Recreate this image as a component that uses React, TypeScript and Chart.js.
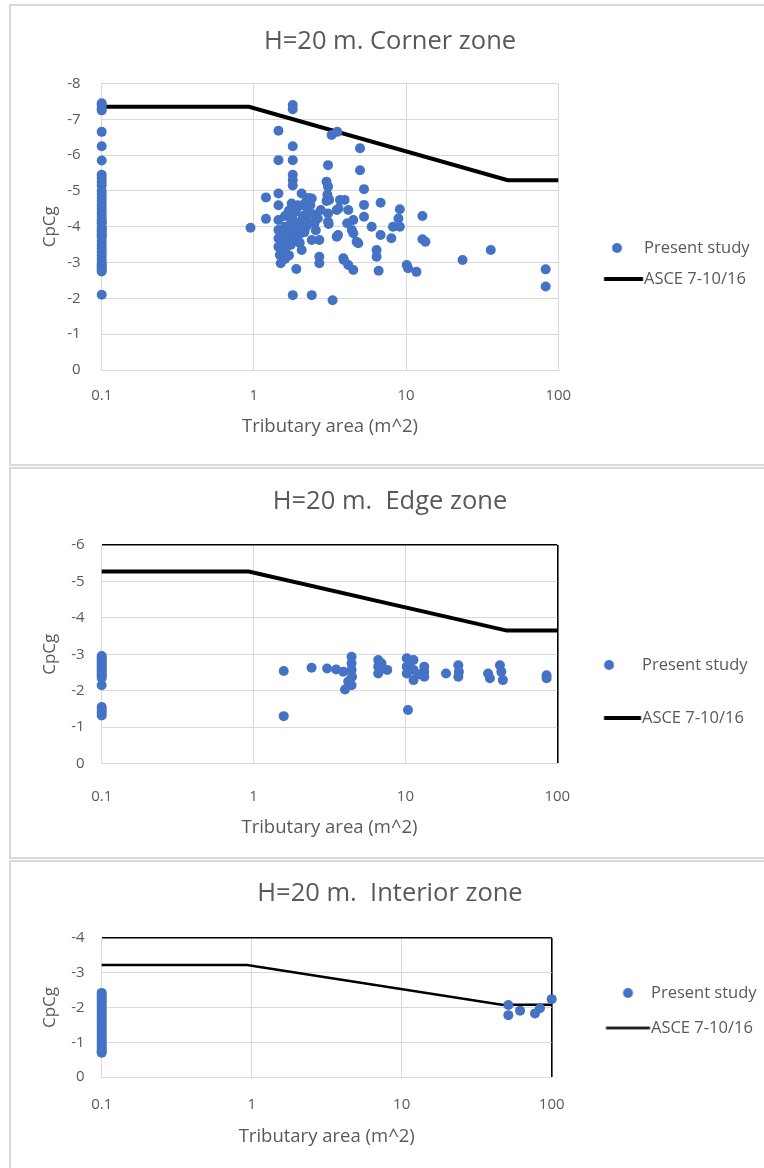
import React, { useEffect, useRef } from 'react';
import { Chart, registerables } from 'chart.js';

Chart.register(...registerables);

// ---------- data ----------
const AREA_TICKS = [0.1, 1, 10, 100];
const AREA_TICK_LABELS = ['0.1', '1', '10', '100'];
const SMALLEST_AREA = 0.1;

// ASCE 7-10/16 design curve (tributary area m^2 -> CpCg)
const ASCE_AREA = [0.1, 0.93, 46.5, 100];
const CORNER_ASCE = [-7.35, -7.35, -5.3, -5.3];
const EDGE_ASCE = [-5.27, -5.27, -3.65, -3.65];
const INTERIOR_ASCE = [-3.22, -3.22, -2.08, -2.08];

// Present study - corner zone
const CORNER_AT_SMALLEST = [
  -7.45, -7.4, -7.3, -7.25, -6.65, -6.25, -5.85, -5.45, -5.35, -5.25, -5.15, -5.0, -4.9, -4.8,
  -4.7, -4.6, -4.5, -4.4, -4.3, -4.2, -4.15, -4.1, -4.0, -3.95, -3.9, -3.85, -3.8, -3.75, -3.7,
  -3.6, -3.5, -3.4, -3.3, -3.2, -3.1, -3.0, -2.95, -2.9, -2.85, -2.8, -2.75, -2.1,
];
const CORNER_AREA = [
  0.95, 1.2, 1.2, 1.45, 1.45, 1.45, 1.45, 1.45, 1.45, 1.45, 1.45, 1.48, 1.5, 1.8, 1.8, 1.8, 1.8,
  1.8, 1.8, 1.8, 1.77, 1.77, 1.8, 1.9, 1.91, 1.91, 2.06, 2.06, 2.06, 2.2, 2.35, 2.4, 2.4, 2.4,
  2.69, 2.69, 2.69, 2.75, 2.63, 3.0, 3.07, 3.04, 3.12, 3.0, 3.07, 3.07, 3.07, 3.1, 3.24, 3.53,
  3.29, 3.5, 3.5, 3.6, 3.68, 3.94, 3.87, 4.17, 4.17, 4.4, 4.5, 4.5, 4.73, 4.98, 4.98, 5.29, 5.29,
  5.29, 5.94, 6.8, 6.8, 6.4, 6.4, 6.6, 8.0, 8.2, 8.9, 9.1, 9.1, 10.1, 10.3, 11.7, 12.8, 12.8,
  13.4, 23.5, 36, 82.6, 82.6, 1.55, 1.6, 1.65, 1.7, 1.75, 1.85, 1.9, 1.95, 2.0, 2.05, 2.1, 2.15,
  2.2, 2.25, 2.3, 1.6, 1.55, 1.65, 1.7, 1.75, 1.6, 1.6, 1.7, 1.8, 1.85, 1.95, 2.1, 2.3, 2.2, 2.45,
  2.5, 2.55, 2.0, 1.75, 4.1, 3.57, 4.85, 4.5, 3.9,
];
const CORNER_CPCG = [
  -3.97, -4.82, -4.22, -6.68, -5.86, -4.93, -4.6, -4.19, -3.91, -3.67, -3.44, -3.21, -2.98, -7.4,
  -7.28, -6.25, -5.86, -5.45, -5.3, -5.15, -4.65, -3.82, -2.09, -2.82, -4.51, -3.68, -4.93, -3.96,
  -3.35, -4.28, -4.61, -4.79, -3.63, -2.09, -3.63, -3.16, -2.98, -4.47, -4.23, -5.26, -5.12, -4.89,
  -4.75, -4.72, -5.72, -4.37, -4.14, -4.08, -6.56, -6.65, -1.95, -4.47, -3.72, -4.51, -4.75, -4.75,
  -3.12, -4.47, -2.93, -3.91, -4.19, -2.79, -3.58, -6.19, -5.58, -5.05, -4.61, -4.28, -4.0, -4.67,
  -3.77, -3.35, -3.16, -2.77, -3.68, -4.0, -4.23, -4.49, -4.0, -2.93, -2.84, -2.74, -4.3, -3.65,
  -3.58, -3.07, -3.35, -2.81, -2.33, -3.3, -3.55, -3.75, -3.95, -4.1, -3.6, -3.9, -4.05, -3.8,
  -4.15, -4.3, -3.85, -4.0, -4.4, -4.1, -4.0, -3.85, -3.45, -3.2, -3.5, -3.1, -4.3, -4.45, -4.2,
  -4.4, -4.6, -4.6, -4.8, -4.7, -4.35, -4.1, -3.9, -3.55, -3.65, -4.1, -3.77, -3.54, -3.82, -3.07,
];

// Present study - edge zone
const EDGE_AT_SMALLEST = [
  -2.95, -2.9, -2.85, -2.8, -2.75, -2.7, -2.65, -2.6, -2.55, -2.5, -2.45, -2.4, -2.35, -2.15,
  -1.55, -1.48, -1.4, -1.32,
];
const EDGE_AREA = [
  1.58, 1.58, 2.41, 3.05, 3.5, 3.9, 4.42, 4.42, 4.42, 4.45, 4.2, 4.0, 4.42, 6.62, 6.62, 6.62, 7.14,
  7.59, 6.95, 10.2, 10.2, 10.2, 10.6, 11.3, 11.3, 11.3, 10.4, 12.3, 13.3, 13.3, 13.3, 18.5, 22.3,
  22.5, 22.3, 35, 36, 41.9, 42.8, 43.8, 85, 85,
];
const EDGE_CPCG = [
  -2.54, -1.3, -2.63, -2.61, -2.58, -2.52, -2.93, -2.75, -2.57, -2.38, -2.25, -2.03, -2.15, -2.84,
  -2.66, -2.47, -2.61, -2.57, -2.75, -2.89, -2.66, -2.47, -2.75, -2.84, -2.57, -2.29, -1.47, -2.45,
  -2.66, -2.52, -2.38, -2.47, -2.7, -2.52, -2.38, -2.47, -2.34, -2.7, -2.52, -2.29, -2.42, -2.34,
];

// Present study - interior zone
const INTERIOR_AT_SMALLEST = [
  -2.42, -2.36, -2.3, -2.24, -2.18, -2.1, -2.02, -1.95, -1.88, -1.8, -1.72, -1.65, -1.58, -1.5,
  -1.42, -1.35, -1.28, -1.2, -1.12, -1.05, -0.98, -0.92, -0.86, -0.8, -0.74, -0.7,
];
const INTERIOR_AREA = [51.4, 51.4, 61.5, 77.4, 83.5, 100];
const INTERIOR_CPCG = [-2.07, -1.78, -1.91, -1.83, -1.98, -2.24];

// ---------- styling / layout ----------
const FONT = "'Open Sans', 'Noto Sans', sans-serif";
const TEXT = '#595959';
const GRID = '#d9d9d9';
const BLUE = '#4472C4';
const TITLE_SIZE = 25.5;
const TICK_SIZE = 15;
const X_TITLE_SIZE = 18.5;
const Y_TITLE_SIZE = 17;
const LEGEND_SIZE = 16.5;
const CANVAS_LEFT = 10;
const CANVAS_W = 764;
const PLOT_LEFT = 101.7;
const Y_TITLE_X = 50.5;
const TITLE_X = 390;
const LEGEND_TEXTS = ['Present study', 'ASCE 7-10/16'];

type Geo = {
  top: number; height: number;
  plotTop: number; plotBottom: number; plotRight: number;
  titleY: number; xTickY: number; xTitleY: number; yTickGap: number;
  legendY: number; legendStep: number;
  keyStart: number; keyEnd: number; dotX: number; textX: number;
};

type ZoneProps = {
  title: string;
  yMin: number;
  smallest: number[];
  area: number[];
  cpcg: number[];
  asce: number[];
  lineWidth: number;
  blackFrame: boolean;
  geo: Geo;
};

function ZoneChart(props: ZoneProps) {
  const ref = useRef<HTMLCanvasElement | null>(null);
  const { geo: g } = props;

  useEffect(() => {
    if (!ref.current) return;
    const c = (y: number) => y - g.top;
    const xc = (x: number) => x - CANVAS_LEFT;

    // vertical layout
    const padTop = 8;
    const padBottom = padTop + g.height - 2 * c(g.legendY);
    const titleLH = TITLE_SIZE * 1.2;
    const tpt = c(g.titleY) - padTop - titleLH / 2;
    const tpb = c(g.plotTop) - padTop - tpt - titleLH;
    const xH = g.height - padBottom - c(g.plotBottom);
    const tickLH = TICK_SIZE * 1.2;
    const xTickPad = c(g.xTickY) - c(g.plotBottom) - tickLH / 2;
    const xLH = X_TITLE_SIZE * 1.2;
    const xTitlePad = g.height - padBottom - c(g.xTitleY) - xLH / 2;

    // legend geometry
    const lp = g.legendStep - LEGEND_SIZE;
    const x0 = g.plotRight + lp;
    const boxW = g.textX - LEGEND_SIZE / 2 - x0;
    const K = x0 + boxW / 2;
    const mctx = document.createElement('canvas').getContext('2d')!;
    mctx.font = `${LEGEND_SIZE}px ${FONT}`;
    const maxText = Math.max(...LEGEND_TEXTS.map((t) => mctx.measureText(t).width));
    const legendW = lp + boxW + LEGEND_SIZE / 2 + maxText + 10;

    // horizontal layout
    const padRight = CANVAS_W - xc(g.plotRight) - legendW;
    const padLeft = 2 * xc(TITLE_X) - xc(g.plotRight) - legendW;
    const yW = xc(PLOT_LEFT) - padLeft;
    const yLH = Y_TITLE_SIZE * 1.2;
    const yTitlePad = xc(Y_TITLE_X) - padLeft - yLH / 2;

    const lineImg = document.createElement('canvas');
    const lw = Math.ceil(2 * Math.max(Math.abs(K - g.keyStart), Math.abs(g.keyEnd - K))) + 2;
    const lh = Math.ceil(props.lineWidth) + 2;
    lineImg.width = lw;
    lineImg.height = lh;
    const lctx = lineImg.getContext('2d')!;
    const lLeft = K - lw / 2;
    lctx.fillStyle = '#000';
    lctx.fillRect(g.keyStart - lLeft, (lh - props.lineWidth) / 2, g.keyEnd - g.keyStart, props.lineWidth);

    const dotImg = document.createElement('canvas');
    const dw = Math.ceil(2 * (Math.abs(g.dotX - K) + 6));
    dotImg.width = dw;
    dotImg.height = 12;
    const dctx = dotImg.getContext('2d')!;
    dctx.fillStyle = BLUE;
    dctx.beginPath();
    dctx.arc(g.dotX - (K - dw / 2), 6, 5, 0, Math.PI * 2);
    dctx.fill();

    const points = [
      ...props.smallest.map((v) => ({ x: SMALLEST_AREA, y: v })),
      ...props.area.map((a, i) => ({ x: a, y: props.cpcg[i] })),
    ];
    const line = ASCE_AREA.map((a, i) => ({ x: a, y: props.asce[i] }));
    const isFrameX = (ctx: any) => props.blackFrame && ctx.tick && ctx.tick.value === 100;
    const isFrameY = (ctx: any) => props.blackFrame && ctx.tick && ctx.tick.value === props.yMin;

    const chart = new Chart(ref.current, {
      type: 'scatter',
      data: {
        datasets: [
          {
            label: LEGEND_TEXTS[0],
            data: points,
            showLine: false,
            pointRadius: 5,
            pointHoverRadius: 5,
            pointBackgroundColor: BLUE,
            pointBorderColor: BLUE,
            pointBorderWidth: 0,
            clip: false,
            order: 1,
          } as any,
          {
            label: LEGEND_TEXTS[1],
            data: line,
            showLine: true,
            borderColor: '#000',
            backgroundColor: '#000',
            borderWidth: props.lineWidth,
            pointRadius: 0,
            pointHoverRadius: 0,
            fill: false,
            tension: 0,
            clip: false,
            order: 2,
          } as any,
        ],
      },
      options: {
        animation: false,
        responsive: false,
        maintainAspectRatio: false,
        events: [],
        layout: { padding: { top: padTop, bottom: padBottom, left: padLeft, right: padRight } },
        scales: {
          x: {
            type: 'logarithmic',
            min: 0.1,
            max: 100,
            afterBuildTicks: (s: any) => {
              s.ticks = AREA_TICKS.map((v) => ({ value: v }));
            },
            afterFit: (s: any) => {
              s.height = xH;
            },
            ticks: {
              autoSkip: false,
              maxRotation: 0,
              color: TEXT,
              font: { family: FONT, size: TICK_SIZE },
              padding: xTickPad,
              callback: (v: any) => {
                const i = AREA_TICKS.indexOf(Number(v));
                return i >= 0 ? AREA_TICK_LABELS[i] : '';
              },
            },
            grid: {
              drawTicks: false,
              color: (ctx: any) => (isFrameX(ctx) ? '#000' : GRID),
              lineWidth: (ctx: any) => (isFrameX(ctx) ? 1.6 : 1),
            },
            border: { color: GRID, width: 1 },
            title: {
              display: true,
              text: 'Tributary area (m^2)',
              color: TEXT,
              font: { family: FONT, size: X_TITLE_SIZE },
              padding: { top: 0, bottom: xTitlePad },
            },
          },
          y: {
            type: 'linear',
            min: props.yMin,
            max: 0,
            reverse: true,
            afterFit: (s: any) => {
              s.width = yW;
            },
            ticks: {
              stepSize: 1,
              color: TEXT,
              font: { family: FONT, size: TICK_SIZE },
              padding: g.yTickGap,
            },
            grid: {
              drawTicks: false,
              color: (ctx: any) => (isFrameY(ctx) ? '#000' : GRID),
              lineWidth: (ctx: any) => (isFrameY(ctx) ? 1.6 : 1),
            },
            border: { color: GRID, width: 1 },
            title: {
              display: true,
              text: 'CpCg',
              color: TEXT,
              font: { family: FONT, size: Y_TITLE_SIZE },
              padding: { top: yTitlePad, bottom: 0 },
            },
          },
        },
        plugins: {
          tooltip: { enabled: false },
          title: {
            display: true,
            text: props.title,
            color: TEXT,
            font: { family: FONT, size: TITLE_SIZE, weight: 'normal' },
            padding: { top: tpt, bottom: tpb },
          },
          legend: {
            display: true,
            position: 'right',
            align: 'center',
            maxWidth: legendW,
            labels: {
              usePointStyle: true,
              pointStyleWidth: boxW,
              padding: lp,
              color: TEXT,
              font: { family: FONT, size: LEGEND_SIZE },
              generateLabels: () => [
                {
                  text: LEGEND_TEXTS[0],
                  pointStyle: dotImg,
                  fillStyle: BLUE,
                  strokeStyle: BLUE,
                  lineWidth: 0,
                  hidden: false,
                  datasetIndex: 0,
                  fontColor: TEXT,
                } as any,
                {
                  text: LEGEND_TEXTS[1],
                  pointStyle: lineImg,
                  fillStyle: '#000',
                  strokeStyle: '#000',
                  lineWidth: 0,
                  hidden: false,
                  datasetIndex: 1,
                  fontColor: TEXT,
                } as any,
              ],
            },
          },
        },
      } as any,
    });
    return () => chart.destroy();
  }, []);

  return (
    <canvas
      ref={ref}
      width={CANVAS_W}
      height={g.height}
      style={{ position: 'absolute', left: CANVAS_LEFT, top: g.top, width: CANVAS_W, height: g.height }}
    />
  );
}

const CORNER_GEO: Geo = {
  top: 5, height: 460, plotTop: 83.5, plotBottom: 370, plotRight: 558.3,
  titleY: 41.7, xTickY: 396, xTitleY: 426.7, yTickGap: 21,
  legendY: 263.5, legendStep: 31, keyStart: 604, keyEnd: 643, dotX: 617, textX: 644,
};
const EDGE_GEO: Geo = {
  top: 467, height: 391, plotTop: 545, plotBottom: 763.5, plotRight: 557.3,
  titleY: 501.7, xTickY: 796.7, xTitleY: 828, yTickGap: 17,
  legendY: 691.5, legendStep: 53, keyStart: 604, keyEnd: 641, dotX: 609, textX: 642,
};
const INTERIOR_GEO: Geo = {
  top: 860, height: 308, plotTop: 938, plotBottom: 1077, plotRight: 551.7,
  titleY: 893.3, xTickY: 1105, xTitleY: 1136.7, yTickGap: 17,
  legendY: 1010.5, legendStep: 35, keyStart: 606, keyEnd: 650, dotX: 628, textX: 651,
};

const panel = (top: number, height: number): React.CSSProperties => ({
  position: 'absolute',
  left: 9,
  top,
  width: 800,
  height,
  boxSizing: 'border-box',
  border: '2px solid #d9d9d9',
});

export default function App() {
  return (
    <div
      style={{
        position: 'fixed',
        left: 0,
        top: 0,
        width: 764,
        height: 1168,
        overflow: 'hidden',
        background: '#fff',
      }}
    >
      <div style={panel(4, 462)} />
      <div style={panel(467, 392)} />
      <div style={panel(860, 330)} />
      <ZoneChart
        title="H=20 m. Corner zone"
        yMin={-8}
        smallest={CORNER_AT_SMALLEST}
        area={CORNER_AREA}
        cpcg={CORNER_CPCG}
        asce={CORNER_ASCE}
        lineWidth={4}
        blackFrame={false}
        geo={CORNER_GEO}
      />
      <ZoneChart
        title="H=20 m.  Edge zone"
        yMin={-6}
        smallest={EDGE_AT_SMALLEST}
        area={EDGE_AREA}
        cpcg={EDGE_CPCG}
        asce={EDGE_ASCE}
        lineWidth={4}
        blackFrame={true}
        geo={EDGE_GEO}
      />
      <ZoneChart
        title="H=20 m.  Interior zone"
        yMin={-4}
        smallest={INTERIOR_AT_SMALLEST}
        area={INTERIOR_AREA}
        cpcg={INTERIOR_CPCG}
        asce={INTERIOR_ASCE}
        lineWidth={2.5}
        blackFrame={true}
        geo={INTERIOR_GEO}
      />
    </div>
  );
}
